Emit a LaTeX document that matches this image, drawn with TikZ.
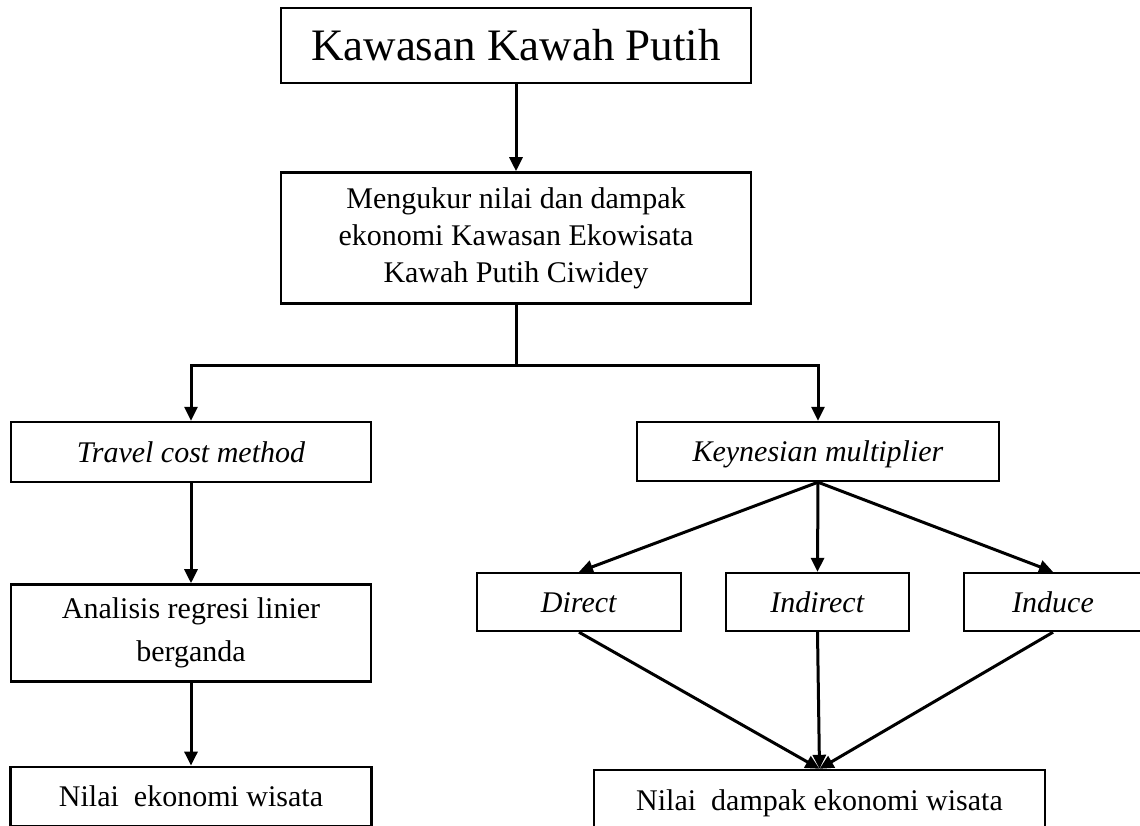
\documentclass[tikz,border=0pt]{standalone}
\usepackage{fontspec}
\setmainfont{Liberation Serif}
\usetikzlibrary{arrows.meta, positioning, calc}

\begin{document}
\begin{tikzpicture}[
	x=0.5pt, y=-0.5pt, % one unit = one pixel of the layout
	box/.style={draw, rectangle, line width=1.2pt, align=center, inner sep=2pt, font=\fontsize{15}{18.5}\selectfont},
	oneline/.style={text height=12pt, text depth=2pt},
	arrow/.style={-{Triangle[length=7pt, width=6.5pt]}, line width=1.5pt},
	line/.style={line width=1.5pt}
	]
	\useasboundingbox (0,0) rectangle (1140,825);
	
	% --- Top: study area and aim ---
	\node[box, minimum width=235pt, minimum height=37.5pt, font=\fontsize{22.5}{26}\selectfont] (area) at (516,45.5) {Kawasan Kawah Putih};
	\node[box, below=43.5pt of area, minimum width=235pt, minimum height=65.5pt] (aim) {Mengukur nilai dan dampak\\ekonomi Kawasan Ekowisata\\Kawah Putih Ciwidey};
	\coordinate[below=30.5pt of aim] (split);
	
	\draw[arrow] (area) -- (aim);
	\draw[line] (aim) -- (split);
	
	% --- Left branch: economic value ---
	\node[box, oneline, minimum width=180pt, minimum height=30pt] (tcm) at (191,452) {\textit{Travel cost method}};
	\node[box, below=50pt of tcm, minimum width=180pt, minimum height=48.5pt, font=\fontsize{15}{21.5}\selectfont] (regresi) {Analisis regresi linier\\berganda};
	\node[box, oneline, below=41.5pt of regresi, minimum width=180.5pt, minimum height=29.5pt] (nilai) {Nilai\ \ ekonomi wisata};
	
	\draw[arrow] (split) -| (tcm);
	\draw[arrow] (tcm) -- (regresi);
	\draw[arrow] (regresi) -- (nilai);
	
	% --- Right branch: economic impact ---
	\node[box, oneline, minimum width=181pt, minimum height=29.5pt] (keynes) at (818,451.5) {\textit{Keynesian multiplier}};
	\node[box, oneline, minimum width=102pt, minimum height=29pt] (direct) at (579,602) {\textit{Direct}};
	\node[box, oneline, minimum width=91.5pt, minimum height=29pt] (indirect) at (817.5,602) {\textit{Indirect}};
	\node[box, oneline, minimum width=89pt, minimum height=29pt] (induce) at (1053,602) {\textit{Induce}};
	\node[box, oneline, minimum width=225.5pt, minimum height=30pt] (dampak) at (819.5,800) {Nilai\ \ dampak ekonomi wisata};
	
	\draw[arrow] (split) -| (keynes);
	\draw[arrow] (keynes.south) -- (direct.north);
	\draw[arrow] (keynes.south) -- (indirect.north);
	\draw[arrow] (keynes.south) -- (induce.north);
	\draw[arrow] (direct.south) -- (dampak.north);
	\draw[arrow] (indirect.south) -- (dampak.north);
	\draw[arrow] (induce.south) -- (dampak.north);
	
\end{tikzpicture}
\end{document}
